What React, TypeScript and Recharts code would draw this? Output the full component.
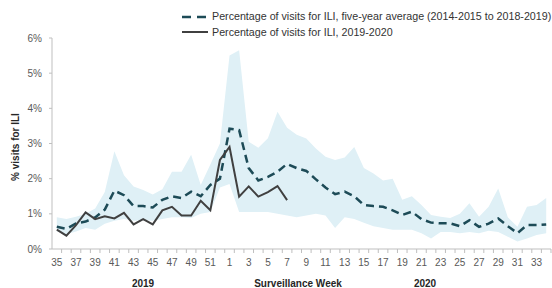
import React from 'react';
import { ComposedChart, Line, Area, XAxis, YAxis } from 'recharts';

const weeks = [
  '35', '36', '37', '38', '39', '40', '41', '42', '43', '44', '45', '46', '47', '48', '49', '50', '51', '52',
  '1', '2', '3', '4', '5', '6', '7', '8', '9', '10', '11', '12', '13', '14', '15', '16', '17',
  '18', '19', '20', '21', '22', '23', '24', '25', '26', '27', '28', '29', '30', '31', '32', '33', '34',
];

const fiveYearAvg = [
  0.63, 0.57, 0.73, 0.78, 0.9, 1.12, 1.66, 1.53, 1.22, 1.22, 1.18, 1.4, 1.5, 1.45, 1.63, 1.5, 1.82, 2.0,
  3.42, 3.38, 2.3, 1.95, 2.05, 2.2, 2.42, 2.3, 2.22, 1.98, 1.75, 1.56, 1.63, 1.5, 1.25, 1.22, 1.2,
  1.1, 0.97, 1.06, 0.85, 0.75, 0.73, 0.73, 0.65, 0.82, 0.63, 0.72, 0.87, 0.65, 0.45, 0.68, 0.68, 0.7,
];

const season2019 = [
  0.55, 0.38, 0.68, 1.04, 0.85, 0.93, 0.87, 1.03, 0.7, 0.85, 0.7, 1.1, 1.2, 0.95, 0.95, 1.37, 1.1, 2.53,
  2.9, 1.49, 1.78, 1.49, 1.62, 1.79, 1.39,
];

const rangeLow = [
  0.5, 0.42, 0.5, 0.6, 0.55, 0.72, 0.8, 0.85, 0.8, 0.82, 0.8, 0.85, 0.9, 0.9, 0.88, 1.0, 1.05, 1.75,
  1.85, 1.05, 1.05, 1.05, 1.05, 1.0, 0.95, 0.9, 0.95, 1.0, 0.95, 0.6, 0.9, 0.85, 0.75, 0.65, 0.6,
  0.55, 0.55, 0.55, 0.45, 0.3, 0.48, 0.48, 0.45, 0.48, 0.45, 0.52, 0.48, 0.35, 0.21, 0.3, 0.4, 0.45,
];

const rangeHigh = [
  0.9, 0.85, 0.92, 1.0, 1.15, 1.62, 2.78, 2.1, 1.78, 1.68, 1.55, 1.7, 2.2, 2.2, 2.68, 1.82, 2.4, 3.0,
  5.5, 5.65, 3.05, 2.88, 3.15, 3.9, 3.45, 3.25, 3.14, 2.86, 2.62, 2.53, 2.6, 2.9, 2.3, 2.15, 1.95,
  2.0, 1.4, 1.5, 1.25, 0.97, 0.92, 0.88, 1.0, 1.3, 0.92, 1.2, 1.72, 0.9, 0.63, 1.2, 1.25, 1.45,
];

const yTicks = [0, 1, 2, 3, 4, 5, 6];

const legendAvg = 'Percentage of visits for ILI, five-year average (2014-2015 to 2018-2019)';
const legendCur = 'Percentage of visits for ILI, 2019-2020';
const yTitle = '% visits for ILI';
const xTitle = 'Surveillance Week';
const yearLeft = '2019';
const yearRight = '2020';

const data = weeks.map((w, i) => ({
  week: w,
  avg: fiveYearAvg[i],
  cur: i < season2019.length ? season2019[i] : null,
  range: [rangeLow[i], rangeHigh[i]],
}));

const W = 552;
const H = 288;
const margin = { top: 38, right: 1, bottom: 9, left: 8 };
const Y_AXIS_W = 44;
const X_AXIS_H = 30;
const PLOT_W = W - margin.left - margin.right - Y_AXIS_W;
const BAND = PLOT_W / weeks.length;
const TICK_SIZE = 4;
const TICK_MARGIN = 6;

const AXIS_COLOR = '#bfbfbf';
const LABEL_COLOR = '#595959';
const AVG_COLOR = '#1d4b57';
const CUR_COLOR = '#404040';
const BAND_COLOR = '#dff0f6';
const FONT = '"Liberation Sans", Arial, sans-serif';

const XTick = (props: any) => {
  const { x, y, payload, index } = props;
  const axisY = y - TICK_SIZE - TICK_MARGIN;
  const bx = x + BAND / 2;
  return (
    <g>
      <line x1={bx} x2={bx} y1={axisY} y2={axisY + TICK_SIZE} stroke={AXIS_COLOR} strokeWidth={1} />
      {index % 2 === 0 ? (
        <text x={x} y={y} dy="0.71em" textAnchor="middle" fontSize={10} fill={LABEL_COLOR} fontFamily={FONT}>
          {payload.value}
        </text>
      ) : null}
    </g>
  );
};

const XTitles = (props: any) => {
  const vb = props.viewBox || { x: 52, y: 249, width: 499, height: 30 };
  const ty = vb.y + vb.height + 8;
  return (
    <g fontFamily={FONT} fontWeight="bold" fontSize={10} fill="#262626">
      <text x={143} y={ty} textAnchor="middle">{yearLeft}</text>
      <text x={298} y={ty} textAnchor="middle">{xTitle}</text>
      <text x={425} y={ty} textAnchor="middle">{yearRight}</text>
    </g>
  );
};

const YTitle = () => (
  <text
    x={15}
    y={147}
    transform="rotate(-90 15 147)"
    textAnchor="middle"
    dominantBaseline="central"
    fontFamily={FONT}
    fontWeight="bold"
    fontSize={10}
    fill="#262626"
  >
    {yTitle}
  </text>
);

export default function App() {
  return (
    <div style={{ position: 'absolute', left: 0, top: 0, width: W, height: H, background: '#fff', fontFamily: FONT }}>
      <ComposedChart width={W} height={H} data={data} margin={margin}>
        <XAxis
          dataKey="week"
          type="category"
          scale="band"
          interval={0}
          height={X_AXIS_H}
          tick={XTick}
          tickSize={TICK_SIZE}
          tickMargin={TICK_MARGIN}
          tickLine={{ stroke: 'none' }}
          axisLine={{ stroke: AXIS_COLOR }}
          label={{ content: XTitles }}
        />
        <YAxis
          type="number"
          domain={[0, 6]}
          ticks={yTicks}
          width={Y_AXIS_W}
          tickSize={3}
          tickMargin={7}
          tickFormatter={(v: number) => `${v}%`}
          tick={{ fontSize: 10, fill: LABEL_COLOR, fontFamily: FONT }}
          tickLine={{ stroke: AXIS_COLOR }}
          axisLine={{ stroke: AXIS_COLOR }}
          label={{ content: YTitle }}
        />
        <Area
          dataKey="range"
          type="linear"
          fill={BAND_COLOR}
          fillOpacity={1}
          stroke="none"
          dot={false}
          activeDot={false}
          isAnimationActive={false}
        />
        <Line
          dataKey="avg"
          type="linear"
          stroke={AVG_COLOR}
          strokeWidth={2.5}
          strokeDasharray="8 5"
          dot={false}
          activeDot={false}
          isAnimationActive={false}
        />
        <Line
          dataKey="cur"
          type="linear"
          stroke={CUR_COLOR}
          strokeWidth={2}
          dot={false}
          activeDot={false}
          connectNulls={false}
          isAnimationActive={false}
        />
      </ComposedChart>
      <div style={{ position: 'absolute', left: 182, top: 9, fontSize: 10.7, color: '#333', lineHeight: '15.6px' }}>
        <div style={{ display: 'flex', alignItems: 'center', height: 15.6, whiteSpace: 'nowrap' }}>
          <svg width={26} height={6}>
            <line x1={0} x2={26} y1={3} y2={3} stroke={AVG_COLOR} strokeWidth={2.5} strokeDasharray="9 6" />
          </svg>
          <span style={{ marginLeft: 4 }}>{legendAvg}</span>
        </div>
        <div style={{ display: 'flex', alignItems: 'center', height: 15.6, whiteSpace: 'nowrap' }}>
          <svg width={26} height={6}>
            <line x1={0} x2={26} y1={3} y2={3} stroke={CUR_COLOR} strokeWidth={2} />
          </svg>
          <span style={{ marginLeft: 4 }}>{legendCur}</span>
        </div>
      </div>
    </div>
  );
}
